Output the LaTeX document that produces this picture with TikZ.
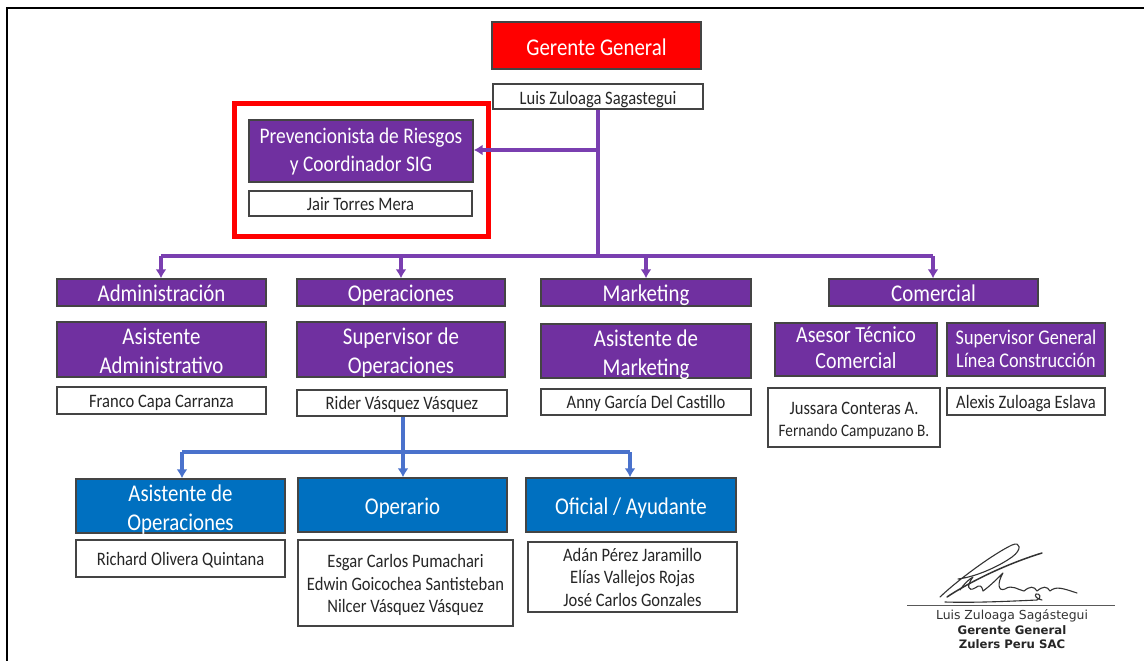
\documentclass[tikz,border=0pt]{standalone}
\usepackage{fontspec}
\setmainfont{Carlito}[FakeStretch=0.87]
\newfontfamily\sigfont{DejaVu Sans}
\usetikzlibrary{arrows.meta}
\definecolor{purp}{HTML}{7030A0}
\definecolor{lineP}{HTML}{7A3FB0}
\definecolor{blu}{HTML}{0070C0}
\definecolor{lineB}{HTML}{4A72CC}
\definecolor{edge}{HTML}{444444}
\tikzset{
 bx/.style={draw=edge,line width=1.3pt,inner sep=0pt,anchor=center},
 redbox/.style={bx,fill=red,text=white,font=\fontsize{24}{29}\selectfont},
 purpbox/.style={bx,fill=purp,text=white,font=\fontsize{24}{29}\selectfont},
 purpprev/.style={bx,fill=purp,text=white,font=\fontsize{22.3}{28}\selectfont},
 purpmid/.style={bx,fill=purp,text=white,font=\fontsize{23}{26}\selectfont},
 purpsup/.style={bx,fill=purp,text=white,font=\fontsize{20.9}{23.5}\selectfont},
 blubox/.style={bx,fill=blu,text=white,font=\fontsize{24}{29}\selectfont},
 namebox/.style={bx,fill=white,text=black!85,font=\fontsize{19}{22.5}\selectfont},
 pline/.style={draw=lineP,line width=3.6pt},
 parrow/.style={pline,-{Latex[length=9pt,width=11pt]}},
 bline/.style={draw=lineB,line width=3.4pt},
 barrow/.style={bline,-{Latex[length=9pt,width=11pt]}},
 sigline/.style={draw=black!80,line width=1.1pt,line cap=round,line join=round},
 sigtext/.style={inner sep=0pt,text=black!80,font=\sigfont\fontsize{12.4}{14}\selectfont},
 sigbold/.style={inner sep=0pt,text=black!85,font=\sigfont\bfseries\fontsize{11.7}{14}\selectfont}
}
\newcommand{\txs}{2}
\newcommand{\bxn}[8][2]{% shift,style,name,x0,y0,x1,y1,text
 \pgfmathsetmacro{\cxx}{(#4+#6)/2}\pgfmathsetmacro{\cyy}{(#5+#7)/2}
 \pgfmathsetmacro{\ww}{#6-#4}\pgfmathsetmacro{\hh}{#7-#5}
 \node[#2,minimum width=\ww pt,minimum height=\hh pt] (#3) at (\cxx,\cyy) {\raisebox{\dimexpr-.25em-#1pt\relax}[0pt][0pt]{\begin{tabular}{@{}c@{}}#8\end{tabular}}};}
\begin{document}
\begin{tikzpicture}[x=1pt,y=-1pt]
\useasboundingbox (0,0) rectangle (1144,661);
\fill[white] (0,0) rectangle (1144,661);
\draw[black,line width=1.8pt] (7,661) -- (7,8) -- (1144,8);
\coordinate (busT) at (598,256);
\coordinate (busL) at (161,256);
\coordinate (busR) at (933,256);
\coordinate (tee) at (598,150);
\coordinate (blueT) at (403,452);
\coordinate (blueL) at (182,452);
\coordinate (blueR) at (630,452);
\bxn[4]{redbox}{gg}{492}{22}{701}{69}{Gerente General}
\bxn[3]{namebox}{luis}{493}{84}{703}{109}{Luis Zuloaga Sagastegui}
\draw[red,line width=5pt] (234,103.5) rectangle (488,236.5);
\bxn[0.5]{purpprev}{prev}{249}{120}{473}{182}{Prevencionista de Riesgos\\y Coordinador SIG}
\bxn{namebox}{jair}{249}{191}{472}{216}{Jair Torres Mera}
\draw[pline] (luis.south -| tee) -- (busT);
\draw[parrow] (tee) -- (tee -| prev.east);
\draw[pline] (busL) -- (busR);
\bxn[3]{purpbox}{adm}{57}{279}{266}{306}{Administración}
\bxn[3]{purpbox}{ope}{297}{279}{505}{306}{Operaciones}
\bxn[3]{purpbox}{mar}{541}{279}{751}{306}{Marketing}
\bxn[3]{purpbox}{com}{829}{279}{1038}{306}{Comercial}
\draw[parrow] (busL) -- (busL |- adm.north);
\draw[parrow] (busT -| ope.north) -- (ope.north);
\draw[parrow] (busT -| mar.north) -- (mar.north);
\draw[parrow] (busR) -- (busR |- com.north);
\bxn[4]{purpbox}{asa}{57}{322}{266}{377}{Asistente\\Administrativo}
\bxn[3.5]{purpbox}{sup}{297}{322}{505}{377}{Supervisor de\\Operaciones}
\bxn[4]{purpbox}{asm}{541}{324}{751}{378}{Asistente de\\Marketing}
\bxn[1]{purpmid}{ase}{775}{323}{937}{376}{Asesor Técnico\\Comercial}
\bxn[2]{purpsup}{sgl}{947}{323}{1105}{376}{Supervisor General\\Línea Construcción}
\bxn{namebox}{fra}{57}{387}{266}{414}{Franco Capa Carranza}
\bxn{namebox}{rid}{297}{390}{507}{416}{Rider Vásquez Vásquez}
\bxn{namebox}{any}{541}{389}{751}{415}{Anny García Del Castillo}
\bxn[3]{namebox}{jus}{768}{388}{940}{447}{Jussara Conteras A.\\\fontsize{17.5}{21}\selectfont Fernando Campuzano B.}
\bxn{namebox}{ale}{947}{388}{1105}{415}{Alexis Zuloaga Eslava}
\draw[bline] (rid.south -| blueT) -- (blueT);
\draw[bline] (blueL) -- (blueR);
\bxn[4]{blubox}{aso}{76}{479}{285}{533}{Asistente de\\Operaciones}
\bxn[4]{blubox}{opr}{298}{478}{507}{532}{Operario}
\bxn[4]{blubox}{ofi}{526}{478}{736}{532}{Oficial / Ayudante}
\draw[barrow] (blueL) -- (blueL |- aso.north);
\draw[barrow] (blueT) -- (blueT |- opr.north);
\draw[barrow] (blueR) -- (blueR |- ofi.north);
\bxn{namebox}{ric}{76}{540}{285}{577}{Richard Olivera Quintana}
\bxn[2.5]{namebox}{esg}{298}{540}{513}{626}{Esgar Carlos Pumachari\\Edwin Goicochea Santisteban\\Nilcer Vásquez Vásquez}
\bxn{namebox}{ada}{528}{542}{737}{612}{Adán Pérez Jaramillo\\Elías Vallejos Rojas\\José Carlos Gonzales}
% signature
\draw[sigline] (940,597) .. controls (960,578) and (995,553) .. (1012,545) .. controls (1021,541) and (1022,550) .. (1012,557) .. controls (998,567) and (975,577) .. (958,579);
\draw[sigline,line width=1.5pt] (947,597) .. controls (965,585) and (1000,566) .. (1042,553);
\draw[sigline] (960,590) .. controls (964,584) and (968,580) .. (973,577) .. controls (966,586) and (968,592) .. (975,588) .. controls (980,584) and (982,586) .. (983,591) .. controls (990,586) and (998,578) .. (1003,573) .. controls (997,583) and (998,592) .. (1005,589) .. controls (1012,584) and (1018,590) .. (1024,591) .. controls (1030,586) and (1034,586) .. (1037,591) .. controls (1043,586) and (1047,586) .. (1050,591) .. controls (1056,586) and (1062,588) .. (1077,593);
\draw[sigline] (945,602) .. controls (975,603) and (1015,601) .. (1037,600) .. controls (1042,598) and (1040,593) .. (1036,594) .. controls (1034,596) and (1037,599) .. (1042,600);
\draw[draw=black!65,line width=1pt] (907,605.5) -- (1115,605.5);
\node[sigtext] (sig1) at (1012,616) {Luis Zuloaga Sagástegui};
\node[sigbold] (sig2) at (1012,630) {Gerente General};
\node[sigbold] (sig3) at (1012,644) {Zulers Peru SAC};
\end{tikzpicture}
\end{document}
